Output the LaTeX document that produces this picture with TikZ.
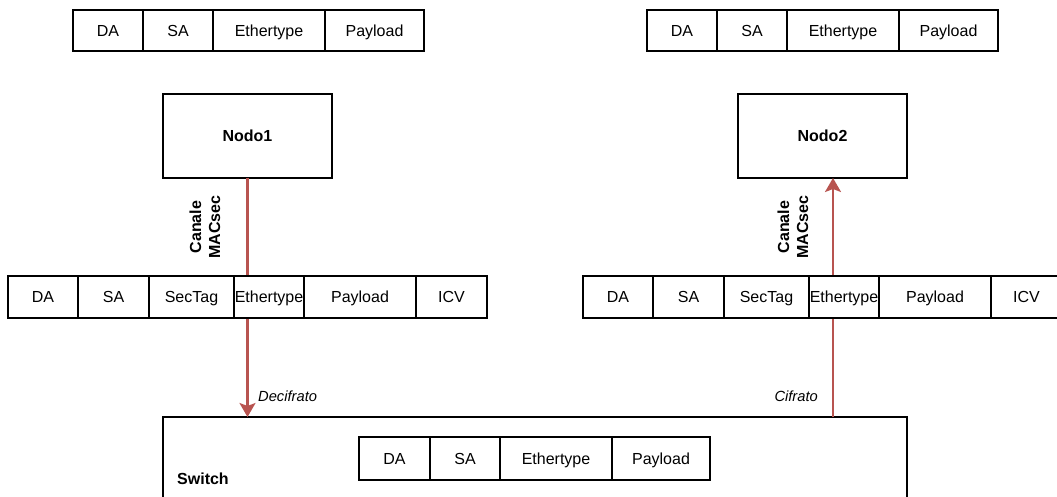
\documentclass[tikz,border=0pt]{standalone}
\usepackage{fontspec}
\setmainfont{Liberation Sans}
\usetikzlibrary{arrows.meta}
\definecolor{linkred}{HTML}{B85450}
\begin{document}
\begin{tikzpicture}[x=1pt,y=-1pt,
  cell/.style={draw, fill=white, line width=1.3pt, inner sep=0pt, outer sep=0pt,
    text height=11.5pt, text depth=0pt,
    anchor=north west, font=\fontsize{16}{19}\selectfont},
  hdr/.style={cell, minimum height=41pt},
  box/.style={draw, fill=white, line width=1.3pt, inner sep=0pt, outer sep=0pt,
    text height=11.5pt, text depth=0pt,
    anchor=north west, font=\fontsize{16}{19}\selectfont\bfseries},
  link/.style={draw=linkred, line width=2.2pt,
    -{Stealth[width=16pt,length=14pt,inset=3pt]}},
  chan/.style={rotate=90, align=center, font=\fontsize{16}{19}\selectfont\bfseries},
  note/.style={font=\fontsize{14.7}{17}\selectfont\itshape, inner sep=0pt}]
\useasboundingbox (0,0) rectangle (1057,497);

% switch body (runs past the lower edge)
\node[box, minimum width=744pt, minimum height=100pt] (sw) at (163,417) {};
\node[anchor=west, font=\fontsize{16}{19}\selectfont\bfseries, inner sep=0pt] (swlbl) at (177,479) {Switch};

% end stations
\node[box, minimum width=169pt, minimum height=84pt, anchor=north west] (n1) at (163,94) {Nodo1};
\node[box, minimum width=169pt, minimum height=84pt, anchor=north west] (n2) at (738,94) {Nodo2};

% MACsec links
\coordinate (rx) at (833,0);
\draw[link] (n1.south) -- (n1.south |- sw.north);
\draw[link] (rx |- sw.north) -- (rx |- n2.south);

% plain frames above the stations
\node[hdr, minimum width=70pt]  (ta1) at (73,10)  {DA};
\node[hdr, minimum width=70pt]  (ta2) at (143,10) {SA};
\node[hdr, minimum width=112pt] (ta3) at (213,10) {Ethertype};
\node[hdr, minimum width=99pt]  (ta4) at (325,10) {Payload};

\node[hdr, minimum width=70pt]  (tb1) at (647,10) {DA};
\node[hdr, minimum width=70pt]  (tb2) at (717,10) {SA};
\node[hdr, minimum width=112pt] (tb3) at (787,10) {Ethertype};
\node[hdr, minimum width=99pt]  (tb4) at (899,10) {Payload};

% MACsec frames on the links
\node[cell, minimum height=42pt, minimum width=70pt]  (ma1) at (8,276)   {DA};
\node[cell, minimum height=42pt, minimum width=71pt]  (ma2) at (78,276)  {SA};
\node[cell, minimum height=42pt, minimum width=85pt]  (ma3) at (149,276) {SecTag};
\node[cell, minimum height=42pt, minimum width=70pt]  (ma4) at (234,276) {Ethertype};
\node[cell, minimum height=42pt, minimum width=112pt] (ma5) at (304,276) {Payload};
\node[cell, minimum height=42pt, minimum width=71pt]  (ma6) at (416,276) {ICV};

\node[cell, minimum height=42pt, minimum width=70pt]  (mb1) at (583,276) {DA};
\node[cell, minimum height=42pt, minimum width=71pt]  (mb2) at (653,276) {SA};
\node[cell, minimum height=42pt, minimum width=85pt]  (mb3) at (724,276) {SecTag};
\node[cell, minimum height=42pt, minimum width=70pt]  (mb4) at (809,276) {Ethertype};
\node[cell, minimum height=42pt, minimum width=112pt] (mb5) at (879,276) {Payload};
\node[cell, minimum height=42pt, minimum width=71pt]  (mb6) at (991,276) {ICV};

% frame inside the switch
\node[cell, minimum height=43pt, minimum width=71pt]  (sa1) at (359,437) {DA};
\node[cell, minimum height=43pt, minimum width=70pt]  (sa2) at (430,437) {SA};
\node[cell, minimum height=43pt, minimum width=112pt] (sa3) at (500,437) {Ethertype};
\node[cell, minimum height=43pt, minimum width=98pt]  (sa4) at (612,437) {Payload};

% link labels
\node[chan] (c1) at (205,227) {Canale\\MACsec};
\node[chan] (c2) at (793,227) {Canale\\MACsec};
\node[note, anchor=west] (dec) at (258,396) {Decifrato};
\node[note, anchor=east] (cif) at (818,396) {Cifrato};
\end{tikzpicture}
\end{document}
